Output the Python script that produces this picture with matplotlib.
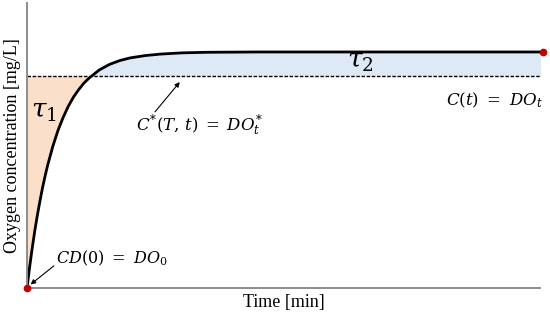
import matplotlib
matplotlib.use("Agg")
import matplotlib.pyplot as plt
import numpy as np

# curve: time [% of span] vs concentration
t = [0, 0.5, 1, 1.5, 2, 2.5, 3, 3.5, 4, 5, 6, 7, 8, 9, 10, 11, 12, 14, 16,
     18, 20, 23, 26, 30, 35, 45, 60, 80, 100]
c = [0, 0.70, 1.34, 1.93, 2.46, 2.94, 3.39, 3.79, 4.16, 4.80, 5.34, 5.78,
     6.16, 6.47, 6.72, 6.94, 7.11, 7.39, 7.58, 7.71, 7.80, 7.88, 7.93, 7.97,
     7.99, 8.0, 8.0, 8.0, 8.0]
c_star = 7.19

plt.rcParams['font.family'] = ['Liberation Serif', 'DejaVu Serif']
plt.rcParams['mathtext.fontset'] = 'dejavuserif'

fig = plt.figure(figsize=(5.5, 3.18), dpi=100)
ax = fig.add_axes([27/550, 30/318, (540-27)/550, 285/318])

ti = np.array(t)
ci = np.array(c)
# fine grid only for the fills
tg = np.linspace(0, 100, 800)
cg = np.interp(tg, ti, ci)
ax.fill_between(tg, cg, c_star, where=cg <= c_star, color='#fadfcb', interpolate=True, lw=0)
ax.fill_between(tg, cg, c_star, where=cg >= c_star, color='#dde9f5', interpolate=True, lw=0)

ax.axhline(c_star, color='black', ls=(0, (2.5, 1.2)), lw=1.0)
ax.plot(t, c, color='black', lw=2.0, solid_capstyle='round')
ax.plot([t[0], t[-1]], [c[0], c[-1]], 'o', color='#c00000', ms=4.5, clip_on=False, zorder=5)

ax.set_xlim(0, 99.4)
ax.set_ylim(0, 9.66)
for s in ['top', 'right']:
    ax.spines[s].set_visible(False)
for s in ['left', 'bottom']:
    ax.spines[s].set_color('#8c8c8c')
    ax.spines[s].set_linewidth(1.4)
ax.set_xticks([])
ax.set_yticks([])

ax.set_xlabel('Time [min]', fontsize=13, labelpad=4)
ax.set_ylabel('Oxygen concentration [mg/L]', fontsize=13, labelpad=4)

ax.text(0.8, 5.95, r'$\tau_1$', fontsize=19, ha='left', va='center')
ax.text(64.5, 7.62, r'$\tau_2$', fontsize=19, ha='center', va='center')
ax.text(100, 6.37, r'$C(t)\ =\ DO_t$', fontsize=12, ha='right', va='center')
ax.text(21.2, 5.53, r'$C^{*}(T,\,t)\;=\;DO_t^{*}$', fontsize=12, ha='left', va='center')
ax.text(5.6, 1.02, r'$CD(0)\ =\ DO_0$', fontsize=11.5, ha='left', va='center')

arrow = dict(arrowstyle='-|>', color='black', lw=0.8, mutation_scale=7,
             shrinkA=0, shrinkB=0)
ax.annotate('', xy=(29.6, 6.98), xytext=(24.8, 5.97), arrowprops=arrow)
ax.annotate('', xy=(0.7, 0.12), xytext=(5.2, 0.75), arrowprops=arrow)

fig.savefig('out.png', dpi=100)
